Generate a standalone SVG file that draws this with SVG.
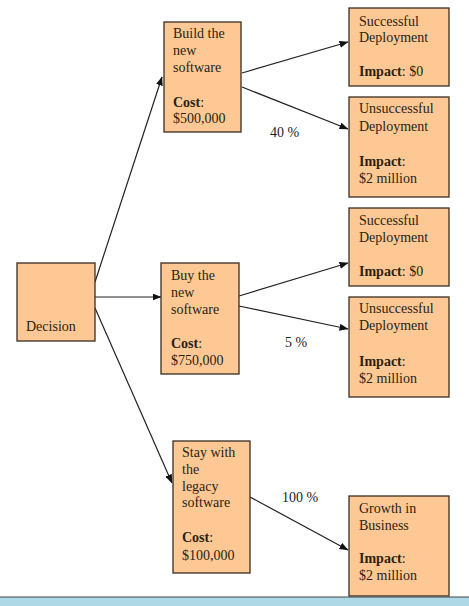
<svg xmlns="http://www.w3.org/2000/svg" width="469" height="606" viewBox="0 0 469 606">
<defs>
<marker id="ah" markerWidth="9" markerHeight="7" refX="8.5" refY="3.5" orient="auto" markerUnits="userSpaceOnUse">
<path d="M0,0 L9,3.5 L0,7 Z" fill="#111"/>
</marker>
<style>
.box{fill:#FDC893;stroke:#3a2e22;stroke-width:1.3}
.t{font-family:"Liberation Serif","Times New Roman",serif;font-size:14px;fill:#2a1f14}
.b{font-weight:bold}
.c{stroke:#222;stroke-width:1.2;fill:none;marker-end:url(#ah)}
.p{font-family:"Liberation Serif","Times New Roman",serif;font-size:14px;fill:#222}
</style>
</defs>
<rect width="469" height="606" fill="#fff"/>
<g id="connectors">
<line class="c" x1="95" y1="282" x2="162" y2="77"/>
<line class="c" x1="95" y1="297" x2="161" y2="297"/>
<line class="c" x1="95" y1="308" x2="172" y2="483"/>
<line class="c" x1="242" y1="73" x2="348" y2="42"/>
<line class="c" x1="242" y1="87" x2="348" y2="129"/>
<line class="c" x1="239" y1="296" x2="348" y2="263"/>
<line class="c" x1="239" y1="306" x2="348" y2="329"/>
<line class="c" x1="250" y1="497" x2="348" y2="550"/>
<text class="p" x="270" y="137">40 %</text>
<text class="p" x="285" y="347">5 %</text>
<text class="p" x="282" y="502">100 %</text>
</g>
<g id="decision">
<rect class="box" x="17" y="263" width="78" height="78"/>
<text class="t" x="26" y="331">Decision</text>
</g>
<g id="build">
<rect class="box" x="164" y="22" width="77" height="110"/>
<text class="t" x="173" y="38">Build the</text>
<text class="t" x="173" y="55">new</text>
<text class="t" x="173" y="72">software</text>
<text class="t" x="173" y="107"><tspan class="b">Cost</tspan>:</text>
<text class="t" x="173" y="123">$500,000</text>
</g>
<g id="buy">
<rect class="box" x="161" y="263" width="78" height="111"/>
<text class="t" x="171" y="280">Buy the</text>
<text class="t" x="171" y="297">new</text>
<text class="t" x="171" y="314">software</text>
<text class="t" x="171" y="348"><tspan class="b">Cost</tspan>:</text>
<text class="t" x="171" y="365">$750,000</text>
</g>
<g id="stay">
<rect class="box" x="173" y="441" width="77" height="132"/>
<text class="t" x="182" y="457">Stay with</text>
<text class="t" x="182" y="474">the</text>
<text class="t" x="182" y="491">legacy</text>
<text class="t" x="182" y="507">software</text>
<text class="t" x="182" y="542"><tspan class="b">Cost</tspan>:</text>
<text class="t" x="182" y="560">$100,000</text>
</g>
<g id="success1">
<rect class="box" x="349" y="8" width="100" height="78"/>
<text class="t" x="359" y="26">Successful</text>
<text class="t" x="359" y="42">Deployment</text>
<text class="t" x="359" y="76"><tspan class="b">Impact</tspan>: $0</text>
</g>
<g id="fail1">
<rect class="box" x="349" y="97" width="100" height="100"/>
<text class="t" x="359" y="113">Unsuccessful</text>
<text class="t" x="359" y="131">Deployment</text>
<text class="t" x="359" y="166"><tspan class="b">Impact</tspan>:</text>
<text class="t" x="359" y="183">$2 million</text>
</g>
<g id="success2">
<rect class="box" x="349" y="208" width="100" height="78"/>
<text class="t" x="359" y="225">Successful</text>
<text class="t" x="359" y="242">Deployment</text>
<text class="t" x="359" y="276"><tspan class="b">Impact</tspan>: $0</text>
</g>
<g id="fail2">
<rect class="box" x="349" y="297" width="100" height="100"/>
<text class="t" x="359" y="313">Unsuccessful</text>
<text class="t" x="359" y="330">Deployment</text>
<text class="t" x="359" y="366"><tspan class="b">Impact</tspan>:</text>
<text class="t" x="359" y="383">$2 million</text>
</g>
<g id="growth">
<rect class="box" x="349" y="496" width="100" height="100"/>
<text class="t" x="359" y="513">Growth in</text>
<text class="t" x="359" y="530">Business</text>
<text class="t" x="359" y="563"><tspan class="b">Impact</tspan>:</text>
<text class="t" x="359" y="580">$2 million</text>
</g>
<g id="bar">
<rect x="0" y="597" width="469" height="9" fill="#ADD8E6"/>
<line x1="0" y1="597" x2="469" y2="597" stroke="#444" stroke-width="1.2"/>
</g>
</svg>
